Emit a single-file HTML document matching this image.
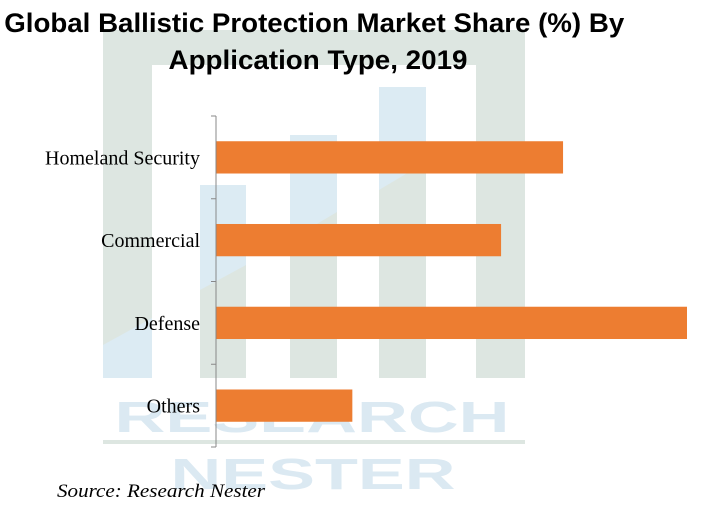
<!DOCTYPE html>
<html><head><meta charset="utf-8"><style>
html,body{margin:0;padding:0;background:#fff;width:713px;height:505px;overflow:hidden}
svg{display:block}
</style></head><body>
<svg id="chart" width="713" height="505" xmlns="http://www.w3.org/2000/svg">
<g>
  <path d="M103,30 H525 V378 H476 V65 H152 V378 H103 Z" fill="#dde6e1"/>
  <rect x="200" y="185" width="46" height="193" fill="#dde6e1"/>
  <rect x="290" y="135" width="47" height="243" fill="#dde6e1"/>
  <rect x="379" y="87" width="47" height="291" fill="#dde6e1"/>
  <polygon points="103,345 152,318 152,378 103,378" fill="#dcebf3"/>
  <polygon points="200,290 200,185 246,185 246,265" fill="#dcebf3"/>
  <polygon points="290,240 290,135 337,135 337,212" fill="#dcebf3"/>
  <polygon points="379,190 379,87 426,87 426,162" fill="#dcebf3"/>
  <text x="312" y="432" text-anchor="middle" font-family="Liberation Sans, sans-serif" font-weight="bold" font-size="44" fill="#dbe9f2" textLength="395" lengthAdjust="spacingAndGlyphs">RESEARCH</text>
  <rect x="103" y="440" width="422" height="4" fill="#dde6e1"/>
  <text x="313" y="489" text-anchor="middle" font-family="Liberation Sans, sans-serif" font-weight="bold" font-size="44" fill="#dbe9f2" textLength="285" lengthAdjust="spacingAndGlyphs">NESTER</text>
</g>
<text font-family="Liberation Sans, sans-serif" font-weight="bold" font-size="27" fill="#000" text-anchor="middle">
  <tspan x="318" y="32" textLength="620" lengthAdjust="spacingAndGlyphs">Global Ballistic Protection Market Share (%) By</tspan>
  <tspan x="318" y="69" textLength="299" lengthAdjust="spacingAndGlyphs">Application Type, 2019</tspan>
</text>
<g id="plot"></g>
<text x="57" y="497" font-family="Liberation Serif, serif" font-style="italic" font-size="19" fill="#000" textLength="208" lengthAdjust="spacingAndGlyphs">Source: Research Nester</text>
</svg>
<script>
const categories = ["Homeland Security","Commercial","Defense","Others"];
const values = [28, 23, 38, 11];
const xMax = 38;
const NS = "http://www.w3.org/2000/svg";
const plot = document.getElementById('plot');
const x0 = 216, x1 = 687, yTop = 116, yBot = 447;
const band = (yBot - yTop) / categories.length;
function xScale(v){ return x0 + (v / xMax) * (x1 - x0); }
function yBand(i){ return yTop + i * band; }
function mk(tag, attrs){ const e = document.createElementNS(NS, tag); for (const k in attrs) e.setAttribute(k, attrs[k]); plot.appendChild(e); return e; }
categories.forEach((c, i) => {
  const bh = band * 0.39;
  const r = mk('rect', {x: x0, y: yBand(i) + (band - bh) / 2, width: xScale(values[i]) - x0, height: bh, fill: '#ed7d31'});
  
  
  const t = mk('text', {x: 200, y: yBand(i) + band / 2 + 7, 'text-anchor': 'end', 'font-family': 'Liberation Serif, serif', 'font-size': '20', fill: '#000'});
  t.textContent = c;
  
  
});
const ax = mk('line', {x1: x0, y1: yTop, x2: x0, y2: yBot, stroke: '#888', 'stroke-width': 1});


for (let i = 0; i <= categories.length; i++) {
  const tk = mk('line', {x1: x0 - 5, y1: yBand(i), x2: x0, y2: yBand(i), stroke: '#888', 'stroke-width': 1});
  
  
}
</script>
</body></html>
